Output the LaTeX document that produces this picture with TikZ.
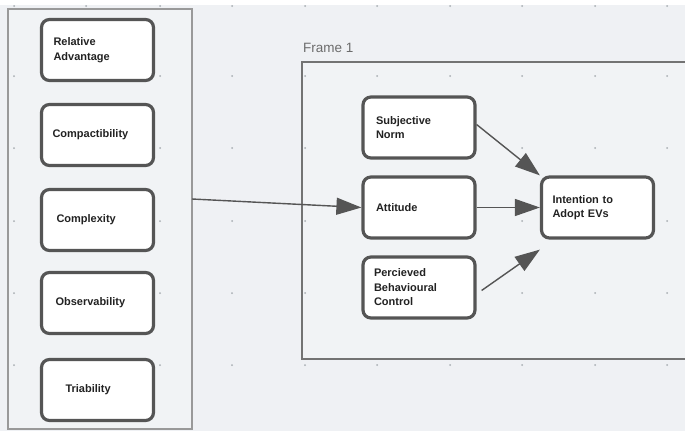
\documentclass[tikz,border=0pt]{standalone}
\usepackage{fontspec}
\setmainfont{Liberation Sans}
\usetikzlibrary{arrows.meta}
\definecolor{bg}{HTML}{EFF1F4}
\definecolor{framefill}{HTML}{F1F3F5}
\definecolor{boxline}{HTML}{555555}
\definecolor{txt}{HTML}{222222}
\definecolor{dotc}{HTML}{A8ADB2}
\tikzset{
  cbox/.style={draw=boxline, line width=3.2pt, rounded corners=8pt, fill=white,
    minimum width=112pt, minimum height=61pt, text width=90pt, inner xsep=11pt,
    align=left, text=txt, font=\fontsize{11}{14.5}\selectfont\bfseries},
  conn/.style={draw=boxline, line width=1.4pt, -{Triangle[length=25pt,width=17pt]}},
  frm/.style={fill=framefill},
  gdot/.style={fill=dotc, circle, inner sep=0pt, minimum size=2pt}
}
\begin{document}
\begin{tikzpicture}[x=1pt,y=-1pt]
\useasboundingbox (0,0) rectangle (685,431);
\fill[bg] (0,0) rectangle (685,431);
\fill[white] (0,0) rectangle (685,5);
% frames
\draw[frm, draw=gray!80, line width=1.3pt] (8,9) rectangle (192,429);
\draw[frm, draw=gray!90!black, line width=1.8pt] (302,62) rectangle (690,359);
\node[anchor=base west, text=gray!85!black, font=\fontsize{13.5}{15}\selectfont, inner sep=0pt] (ftitle) at (303,52) {Frame 1};
% dots
\foreach \x in {14,86,160,232,305,377,450,522,595,667}
  \foreach \y in {6,76,148,221,293,365}
    \node[gdot] at (\x,\y) {};
% left boxes
\node[cbox] (ra) at (97.5,50) {\hspace*{1pt}Relative\\\hspace*{1pt}Advantage};
\node[cbox] (co) at (97.5,135) {Compactibility};
\node[cbox] (cx) at (97.5,220) {\hspace*{4pt}Complexity};
\node[cbox] (ob) at (97.5,303) {\hspace*{3pt}Observability};
\node[cbox] (tr) at (97.5,390) {\hspace*{13pt}Triability};
% right boxes
\node[cbox] (sn) at (419,127.5) {\hspace*{2pt}Subjective\\\hspace*{2pt}Norm};
\node[cbox] (at) at (419,207.5) {\hspace*{2pt}Attitude};
\node[cbox] (pb) at (419,287.5) {Percieved\\Behavioural\\Control};
\node[cbox] (iv) at (597.5,207.5) {Intention to\\Adopt EVs};
% connectors
\coordinate (lf) at (192,199);
\draw[conn] (lf) -- (at.west);
\draw[conn] (sn.east) ++(0,-3) -- (iv.north west);
\draw[conn] (at.east) -- (iv.west);
\draw[conn] ([yshift=-3pt]pb.east) ++(5,0) -- ([yshift=-10pt]iv.south west);
\end{tikzpicture}
\end{document}
